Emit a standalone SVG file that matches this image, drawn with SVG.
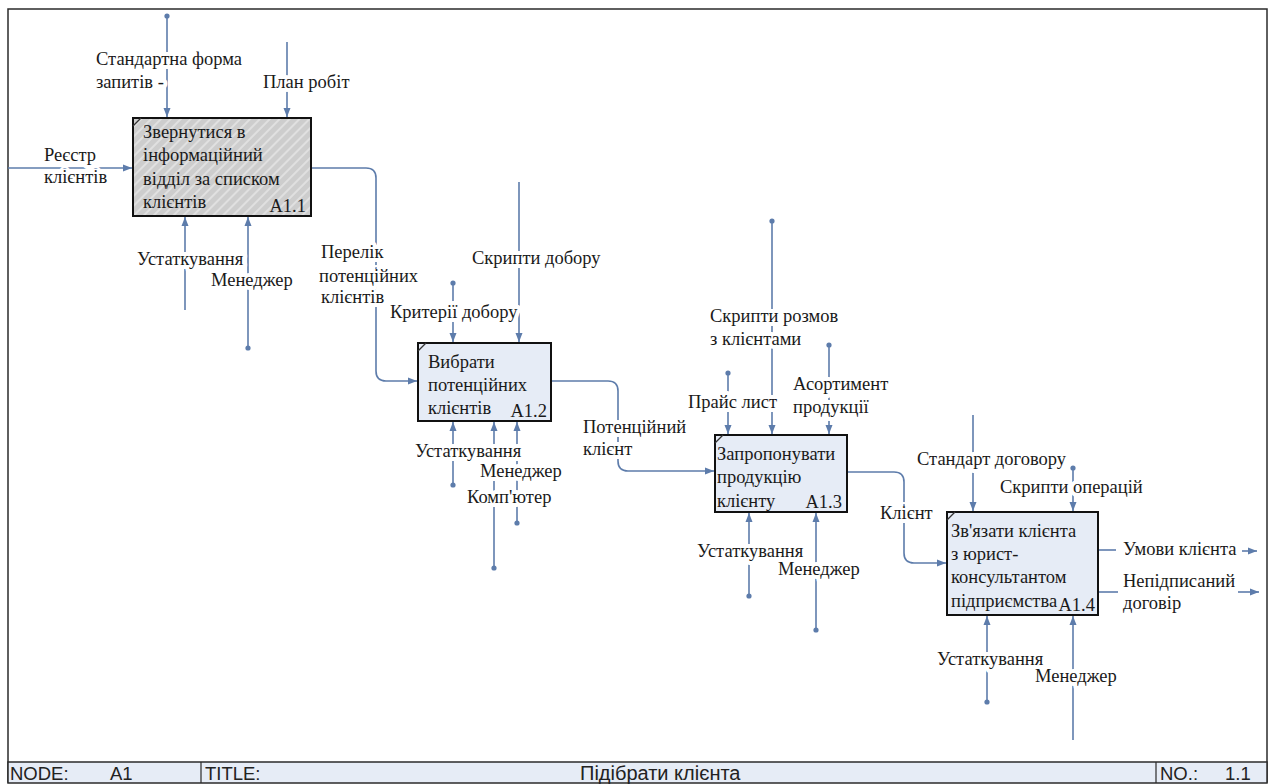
<svg xmlns="http://www.w3.org/2000/svg" width="1275" height="784" viewBox="0 0 1275 784">
<style>
.frame{fill:none;stroke:#2b2b2b;stroke-width:1.5}
.box{stroke:#111;stroke-width:2}
.blue{fill:#e6ecf6}
.corner{stroke:#333;stroke-width:1.2}
.c{fill:none;stroke:#5d7cab;stroke-width:1.6}
.lbl{font-family:"Liberation Serif","DejaVu Serif",serif;font-size:18.5px;fill:#1a1a1a;stroke:#fff;stroke-width:8;paint-order:stroke;stroke-linejoin:round}
.bt{font-family:"Liberation Serif","DejaVu Serif",serif;font-size:18.5px;fill:#1a1a1a}
.bar{font-family:"Liberation Sans",Arial,sans-serif;font-size:18.5px;fill:#222}
.ttl{font-family:"Liberation Sans",Arial,sans-serif;font-size:20px;fill:#222}
</style>
<defs>
<marker id="ar" markerUnits="userSpaceOnUse" markerWidth="10" markerHeight="8" refX="9" refY="4" orient="auto"><path d="M0,0.5 L9,4 L0,7.5 z" fill="#5d7cab"/></marker>
<marker id="dt" markerUnits="userSpaceOnUse" markerWidth="7" markerHeight="7" refX="3.5" refY="3.5"><circle cx="3.5" cy="3.5" r="2.6" fill="#5d7cab"/></marker>
<pattern id="hatch" patternUnits="userSpaceOnUse" width="7" height="7" patternTransform="rotate(-45)"><rect width="7" height="7" fill="#cdcdcd"/><line x1="0" y1="2" x2="7" y2="2" stroke="#eeeeee" stroke-width="1.2"/></pattern>
</defs>
<rect x="0" y="0" width="1275" height="784" fill="#fff"/>
<g id="frame">
<rect class="frame" x="8" y="9" width="1259" height="773"/>
<rect x="8" y="762" width="1259" height="21" fill="#e6ecf6" stroke="#2b2b2b" stroke-width="1.5"/>
<line x1="201" y1="762" x2="201" y2="783" stroke="#2b2b2b" stroke-width="1.2"/>
<line x1="1156" y1="762" x2="1156" y2="783" stroke="#2b2b2b" stroke-width="1.2"/>
<text class="bar" x="10" y="780">NODE:</text>
<text class="bar" x="110" y="780">A1</text>
<text class="bar" x="205" y="780">TITLE:</text>
<text class="ttl" x="580" y="780">Підібрати клієнта</text>
<text class="bar" x="1160" y="780">NO.:</text>
<text class="bar" x="1225" y="780">1.1</text>
</g>
<g id="connectors">
<path class="c" d="M167,16 V117" marker-start="url(#dt)" marker-end="url(#ar)"/>
<path class="c" d="M287,42 V117" marker-end="url(#ar)"/>
<path class="c" d="M8,168 H132" marker-end="url(#ar)"/>
<path class="c" d="M185,310 V217" marker-end="url(#ar)"/>
<path class="c" d="M248,348 V217" marker-start="url(#dt)" marker-end="url(#ar)"/>
<path class="c" d="M312,168 H366 Q376,168 376,178 V371 Q376,381 386,381 H417" marker-end="url(#ar)"/>
<path class="c" d="M453,283 V342" marker-start="url(#dt)" marker-end="url(#ar)"/>
<path class="c" d="M519,182 V342" marker-end="url(#ar)"/>
<path class="c" d="M453,485 V422" marker-start="url(#dt)" marker-end="url(#ar)"/>
<path class="c" d="M494,568 V422" marker-start="url(#dt)" marker-end="url(#ar)"/>
<path class="c" d="M517,523 V422" marker-start="url(#dt)" marker-end="url(#ar)"/>
<path class="c" d="M552,381 H608 Q618,381 618,391 V461 Q618,471 628,471 H714" marker-end="url(#ar)"/>
<path class="c" d="M728,373 V434" marker-start="url(#dt)" marker-end="url(#ar)"/>
<path class="c" d="M772,221 V434" marker-start="url(#dt)" marker-end="url(#ar)"/>
<path class="c" d="M829,345 V434" marker-start="url(#dt)" marker-end="url(#ar)"/>
<path class="c" d="M749,596 V513" marker-start="url(#dt)" marker-end="url(#ar)"/>
<path class="c" d="M816,630 V513" marker-start="url(#dt)" marker-end="url(#ar)"/>
<path class="c" d="M848,472 H894 Q904,472 904,482 V553 Q904,563 914,563 H946" marker-end="url(#ar)"/>
<path class="c" d="M973,415 V511" marker-end="url(#ar)"/>
<path class="c" d="M1073,468 V511" marker-start="url(#dt)" marker-end="url(#ar)"/>
<path class="c" d="M987,702 V616" marker-start="url(#dt)" marker-end="url(#ar)"/>
<path class="c" d="M1073,740 V616" marker-end="url(#ar)"/>
<path class="c" d="M1099,550 H1116"/>
<path class="c" d="M1242,551 H1257" marker-end="url(#ar)"/>
<path class="c" d="M1099,592 H1118"/>
<path class="c" d="M1238,592 H1259" marker-end="url(#ar)"/>
</g>
<g id="labels">
<text class="lbl" x="96" y="65">Стандартна форма</text>
<text class="lbl" x="96" y="88">запитів -</text>
<text class="lbl" x="263" y="88">План робіт</text>
<text class="lbl" x="44" y="161">Реєстр</text>
<text class="lbl" x="44" y="183">клієнтів</text>
<text class="lbl" x="137" y="265">Устаткування</text>
<text class="lbl" x="211" y="286">Менеджер</text>
<text class="lbl" x="321" y="258">Перелік</text>
<text class="lbl" x="319" y="282">потенційних</text>
<text class="lbl" x="321" y="303">клієнтів</text>
<text class="lbl" x="472" y="264">Скрипти  добору</text>
<text class="lbl" x="390" y="318">Критерії добору</text>
<text class="lbl" x="415" y="457">Устаткування</text>
<text class="lbl" x="480" y="477">Менеджер</text>
<text class="lbl" x="467" y="503">Комп'ютер</text>
<text class="lbl" x="583" y="433">Потенційний</text>
<text class="lbl" x="583" y="455">клієнт</text>
<text class="lbl" x="710" y="322">Скрипти розмов</text>
<text class="lbl" x="710" y="345">з клієнтами</text>
<text class="lbl" x="793" y="390">Асортимент</text>
<text class="lbl" x="793" y="413">продукції</text>
<text class="lbl" x="688" y="408">Прайс лист</text>
<text class="lbl" x="697" y="557">Устаткування</text>
<text class="lbl" x="778" y="575">Менеджер</text>
<text class="lbl" x="880" y="519">Клієнт</text>
<text class="lbl" x="917" y="465">Стандарт договору</text>
<text class="lbl" x="1000" y="493">Скрипти операцій</text>
<text class="lbl" x="1123" y="555">Умови клієнта</text>
<text class="lbl" x="1123" y="587">Непідписаний</text>
<text class="lbl" x="1123" y="609">договір</text>
<text class="lbl" x="937" y="665">Устаткування</text>
<text class="lbl" x="1035" y="682">Менеджер</text>
</g>
<g id="A1.1">
<rect class="box" x="133" y="118" width="178" height="98" fill="url(#hatch)"/>
<line class="corner" x1="133" y1="126" x2="141" y2="118"/>
<text class="bt" x="143" y="138">Звернутися в</text>
<text class="bt" x="143" y="161">інформаційний</text>
<text class="bt" x="143" y="185">відділ за списком</text>
<text class="bt" x="143" y="208">клієнтів</text>
<text class="bt" x="306" y="212" text-anchor="end">A1.1</text>
</g>
<g id="A1.2">
<rect class="box blue" x="418" y="343" width="133" height="78"/>
<line class="corner" x1="418" y1="351" x2="426" y2="343"/>
<text class="bt" x="428" y="368">Вибрати</text>
<text class="bt" x="428" y="391">потенційних</text>
<text class="bt" x="428" y="414">клієнтів</text>
<text class="bt" x="547" y="417" text-anchor="end">A1.2</text>
</g>
<g id="A1.3">
<rect class="box blue" x="715" y="435" width="132" height="77"/>
<line class="corner" x1="715" y1="443" x2="723" y2="435"/>
<text class="bt" x="717" y="460">Запропонувати</text>
<text class="bt" x="717" y="483">продукцію</text>
<text class="bt" x="717" y="507">клієнту</text>
<text class="bt" x="842" y="508" text-anchor="end">A1.3</text>
</g>
<g id="A1.4">
<rect class="box blue" x="947" y="512" width="151" height="103"/>
<line class="corner" x1="947" y1="520" x2="955" y2="512"/>
<text class="bt" x="951" y="537">Зв'язати клієнта</text>
<text class="bt" x="951" y="560">з юрист-</text>
<text class="bt" x="951" y="583">консультантом</text>
<text class="bt" x="951" y="607">підприємства</text>
<text class="bt" x="1095" y="611" text-anchor="end">A1.4</text>
</g>
</svg>
